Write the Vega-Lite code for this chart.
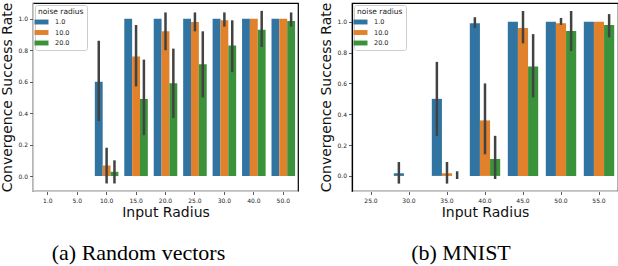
{
  "$schema": "https://vega.github.io/schema/vega-lite/v6.json",
  "padding": {"left": 0, "top": 1, "right": 0, "bottom": 0},
  "autosize": {"type": "pad"},
  "background": "white",
  "spacing": 20,
  "datasets": {
    "rv": [
      {"radius": "1.0", "noise": "1.0", "mean": 0, "lo": null, "hi": null},
      {"radius": "1.0", "noise": "10.0", "mean": 0, "lo": null, "hi": null},
      {"radius": "1.0", "noise": "20.0", "mean": 0, "lo": null, "hi": null},
      {"radius": "5.0", "noise": "1.0", "mean": 0, "lo": null, "hi": null},
      {"radius": "5.0", "noise": "10.0", "mean": 0, "lo": null, "hi": null},
      {"radius": "5.0", "noise": "20.0", "mean": 0, "lo": null, "hi": null},
      {"radius": "10.0", "noise": "1.0", "mean": 0.60, "lo": 0.35, "hi": 0.86},
      {"radius": "10.0", "noise": "10.0", "mean": 0.067, "lo": -0.047, "hi": 0.18},
      {"radius": "10.0", "noise": "20.0", "mean": 0.027, "lo": -0.047, "hi": 0.10},
      {"radius": "15.0", "noise": "1.0", "mean": 1.0, "lo": null, "hi": null},
      {"radius": "15.0", "noise": "10.0", "mean": 0.76, "lo": 0.57, "hi": 0.96},
      {"radius": "15.0", "noise": "20.0", "mean": 0.49, "lo": 0.26, "hi": 0.74},
      {"radius": "20.0", "noise": "1.0", "mean": 1.0, "lo": null, "hi": null},
      {"radius": "20.0", "noise": "10.0", "mean": 0.92, "lo": 0.80, "hi": 1.04},
      {"radius": "20.0", "noise": "20.0", "mean": 0.59, "lo": 0.37, "hi": 0.81},
      {"radius": "25.0", "noise": "1.0", "mean": 1.0, "lo": null, "hi": null},
      {"radius": "25.0", "noise": "10.0", "mean": 0.98, "lo": 0.92, "hi": 1.04},
      {"radius": "25.0", "noise": "20.0", "mean": 0.71, "lo": 0.50, "hi": 0.92},
      {"radius": "30.0", "noise": "1.0", "mean": 1.0, "lo": null, "hi": null},
      {"radius": "30.0", "noise": "10.0", "mean": 0.99, "lo": 0.95, "hi": 1.04},
      {"radius": "30.0", "noise": "20.0", "mean": 0.83, "lo": 0.66, "hi": 0.99},
      {"radius": "40.0", "noise": "1.0", "mean": 1.0, "lo": null, "hi": null},
      {"radius": "40.0", "noise": "10.0", "mean": 1.0, "lo": null, "hi": null},
      {"radius": "40.0", "noise": "20.0", "mean": 0.93, "lo": 0.82, "hi": 1.05},
      {"radius": "50.0", "noise": "1.0", "mean": 1.0, "lo": null, "hi": null},
      {"radius": "50.0", "noise": "10.0", "mean": 1.0, "lo": null, "hi": null},
      {"radius": "50.0", "noise": "20.0", "mean": 0.985, "lo": 0.95, "hi": 1.04}
    ],
    "mn": [
      {"radius": "25.0", "noise": "1.0", "mean": 0, "lo": null, "hi": null},
      {"radius": "25.0", "noise": "10.0", "mean": 0, "lo": null, "hi": null},
      {"radius": "25.0", "noise": "20.0", "mean": 0, "lo": null, "hi": null},
      {"radius": "30.0", "noise": "1.0", "mean": 0.017, "lo": -0.05, "hi": 0.09},
      {"radius": "30.0", "noise": "10.0", "mean": 0, "lo": null, "hi": null},
      {"radius": "30.0", "noise": "20.0", "mean": 0, "lo": null, "hi": null},
      {"radius": "35.0", "noise": "1.0", "mean": 0.50, "lo": 0.26, "hi": 0.74},
      {"radius": "35.0", "noise": "10.0", "mean": 0.017, "lo": -0.05, "hi": 0.09},
      {"radius": "35.0", "noise": "20.0", "mean": 0, "lo": -0.02, "hi": 0.03},
      {"radius": "40.0", "noise": "1.0", "mean": 0.99, "lo": 0.96, "hi": 1.03},
      {"radius": "40.0", "noise": "10.0", "mean": 0.36, "lo": 0.14, "hi": 0.60},
      {"radius": "40.0", "noise": "20.0", "mean": 0.11, "lo": -0.02, "hi": 0.26},
      {"radius": "45.0", "noise": "1.0", "mean": 1.0, "lo": null, "hi": null},
      {"radius": "45.0", "noise": "10.0", "mean": 0.96, "lo": 0.86, "hi": 1.07},
      {"radius": "45.0", "noise": "20.0", "mean": 0.71, "lo": 0.51, "hi": 0.92},
      {"radius": "50.0", "noise": "1.0", "mean": 1.0, "lo": null, "hi": null},
      {"radius": "50.0", "noise": "10.0", "mean": 0.99, "lo": 0.98, "hi": 1.025},
      {"radius": "50.0", "noise": "20.0", "mean": 0.94, "lo": 0.81, "hi": 1.07},
      {"radius": "55.0", "noise": "1.0", "mean": 1.0, "lo": null, "hi": null},
      {"radius": "55.0", "noise": "10.0", "mean": 1.0, "lo": null, "hi": null},
      {"radius": "55.0", "noise": "20.0", "mean": 0.98, "lo": 0.90, "hi": 1.05}
    ]
  },
  "resolve": {"scale": {"color": "independent", "x": "independent", "y": "independent", "xOffset": "independent"}},
  "hconcat": [
    {
      "width": 265,
      "height": 188,
      "data": {"name": "rv"},
      "title": {"text": "(a) Random vectors", "orient": "bottom", "anchor": "middle", "dx": -27, "offset": 23},
      "encoding": {
        "x": {"field": "radius", "type": "nominal",
              "sort": ["1.0", "5.0", "10.0", "15.0", "20.0", "25.0", "30.0", "40.0", "50.0"],
              "scale": {"paddingInner": 0.2, "paddingOuter": 0.1},
              "axis": {"title": "Input Radius", "domainColor": "#cccccc"}},
        "xOffset": {"field": "noise", "type": "nominal", "sort": ["1.0", "10.0", "20.0"],
                    "scale": {"paddingInner": 0, "paddingOuter": 0}}
      },
      "layer": [
        {
          "mark": {"type": "bar"},
          "encoding": {
            "y": {"field": "mean", "type": "quantitative",
                  "scale": {"domain": [-0.095, 1.1], "nice": false, "zero": false},
                  "axis": {"title": "Convergence Success Rate", "domainColor": "#cccccc", "values": [0, 0.2, 0.4, 0.6, 0.8, 1.0], "format": ".1f"}},
            "color": {"field": "noise", "type": "nominal", "sort": ["1.0", "10.0", "20.0"],
                      "scale": {"domain": ["1.0", "10.0", "20.0"], "range": ["#3274a1", "#e1812c", "#3a923a"]},
                      "legend": {"title": "noise radius"}}
          }
        },
        {
          "mark": {"type": "rule", "color": "#424242", "strokeWidth": 2.5},
          "encoding": {
            "y": {"field": "lo", "type": "quantitative",
                  "axis": {"title": "Convergence Success Rate", "domainColor": "#cccccc", "values": [0, 0.2, 0.4, 0.6, 0.8, 1.0], "format": ".1f"}},
            "y2": {"field": "hi"}
          }
        }
      ]
    },
    {
      "width": 266,
      "height": 188,
      "data": {"name": "mn"},
      "title": {"text": "(b) MNIST", "orient": "bottom", "anchor": "middle", "dx": -24, "offset": 23},
      "encoding": {
        "x": {"field": "radius", "type": "nominal",
              "sort": ["25.0", "30.0", "35.0", "40.0", "45.0", "50.0", "55.0"],
              "scale": {"paddingInner": 0.2, "paddingOuter": 0.1},
              "axis": {"title": "Input Radius", "domainColor": "#cccccc"}},
        "xOffset": {"field": "noise", "type": "nominal", "sort": ["1.0", "10.0", "20.0"],
                    "scale": {"paddingInner": 0, "paddingOuter": 0}}
      },
      "layer": [
        {
          "mark": {"type": "bar"},
          "encoding": {
            "y": {"field": "mean", "type": "quantitative",
                  "scale": {"domain": [-0.098, 1.122], "nice": false, "zero": false},
                  "axis": {"title": "Convergence Success Rate", "domainColor": "#000000", "values": [0, 0.2, 0.4, 0.6, 0.8, 1.0], "format": ".1f"}},
            "color": {"field": "noise", "type": "nominal", "sort": ["1.0", "10.0", "20.0"],
                      "scale": {"domain": ["1.0", "10.0", "20.0"], "range": ["#3274a1", "#e1812c", "#3a923a"]},
                      "legend": {"title": "noise radius"}}
          }
        },
        {
          "mark": {"type": "rule", "color": "#424242", "strokeWidth": 2.5},
          "encoding": {
            "y": {"field": "lo", "type": "quantitative",
                  "axis": {"title": "Convergence Success Rate", "domainColor": "#000000", "values": [0, 0.2, 0.4, 0.6, 0.8, 1.0], "format": ".1f"}},
            "y2": {"field": "hi"}
          }
        }
      ]
    }
  ],
  "config": {
    "font": "DejaVu Sans",
    "view": {"stroke": "#000000", "strokeWidth": 1.2},
    "axis": {
      "grid": false,
      "labelFont": "DejaVu Sans",
      "labelFontSize": 6,
      "labelColor": "#222222",
      "labelPadding": 2,
      "tickColor": "#333333",
      "tickSize": 3.5,
      "tickWidth": 0.8,
      "domainWidth": 1.2,
      "titleFont": "DejaVu Sans",
      "titleFontSize": 14,
      "titleFontWeight": "normal",
      "titleColor": "#111111",
      "titlePadding": 3
    },
    "axisX": {"labelAngle": 0, "labelPadding": 3, "titlePadding": 2},
    "legend": {
      "orient": "top-left",
      "offset": 2,
      "fillColor": "white",
      "strokeColor": "#cccccc",
      "padding": 3,
      "cornerRadius": 2,
      "titleFont": "DejaVu Sans",
      "titleFontSize": 7.5,
      "titleFontWeight": "normal",
      "titleColor": "#222222",
      "titlePadding": 3,
      "labelFont": "DejaVu Sans",
      "labelFontSize": 6.5,
      "labelColor": "#222222",
      "labelOffset": 10,
      "symbolType": "M-2,-0.7H2V0.7H-2Z",
      "symbolSize": 49,
      "symbolStrokeWidth": 0,
      "rowPadding": 3.5
    },
    "title": {"font": "Liberation Serif", "fontSize": 22, "fontWeight": "normal", "color": "#000000"}
  }
}
